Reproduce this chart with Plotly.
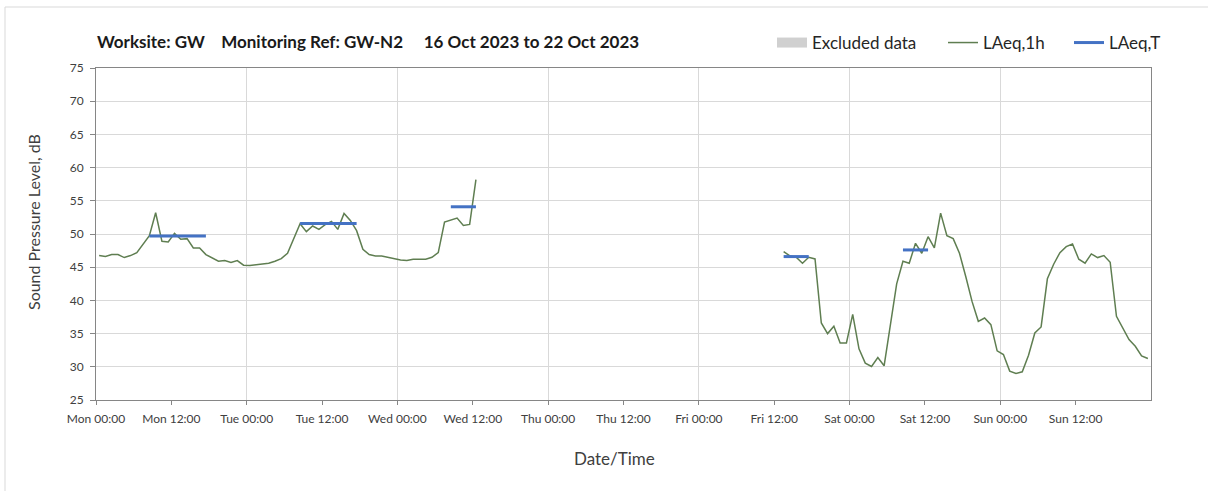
import pandas as pd
import plotly.graph_objects as go

# ---- data -------------------------------------------------------------
# Hourly LAeq,1h values (dB); each value is drawn at the middle of its hour.
seg1_start = "2023-10-16 00:00"      # Mon 00:00 .. Wed 12:00
laeq_1h_seg1 = [
    46.75, 46.6, 46.9, 46.9, 46.45, 46.75, 47.2, 48.5, 49.75, 53.2,
    48.9, 48.8, 50.1, 49.2, 49.3, 47.9, 47.9, 46.9, 46.45, 45.9,
    46.0, 45.7, 46.0, 45.3, 45.25, 45.4, 45.5, 45.6, 45.9, 46.3,
    47.1, 49.3, 51.55, 50.35, 51.2, 50.7, 51.4, 51.9, 50.7, 53.1,
    52.05, 50.5, 47.7, 46.9, 46.7, 46.7, 46.5, 46.2, 46.1, 46.0,
    46.2, 46.2, 46.2, 46.5, 47.2, 51.8, 52.05, 52.4, 51.3, 51.45, 58.2,
]
seg2_start = "2023-10-20 13:00"      # Fri 13:00 .. Sun 23:00
laeq_1h_seg2 = [
    47.33, 46.7, 46.5, 45.6, 46.5, 46.25, 36.6, 35.0, 36.1, 33.6,
    33.6, 37.9, 32.7, 30.55, 30.05, 31.4, 30.15, 36.0, 42.5, 45.9,
    45.6, 48.6, 47.1, 49.6, 47.9, 53.15, 49.75, 49.3, 47.1, 43.6,
    39.85, 36.85, 37.35, 36.35, 32.4, 31.85, 29.35, 29.0, 29.25, 31.75,
    35.1, 36.0, 43.25, 45.45, 47.2, 48.1, 48.5, 46.2, 45.6, 47.0,
    46.45, 46.75, 45.75, 37.6, 35.85, 34.1, 33.1, 31.65, 31.25,
]

# LAeq,T over each assessment period (first and last hour of the period)
period_first_hour = ["2023-10-16 08:00", "2023-10-17 08:00", "2023-10-18 08:00",
                     "2023-10-20 13:00", "2023-10-21 08:00"]
period_last_hour = ["2023-10-16 17:00", "2023-10-17 17:00", "2023-10-18 12:00",
                    "2023-10-20 17:00", "2023-10-21 12:00"]
laeq_t = [49.7, 51.6, 54.1, 46.6, 47.6]

week_start = "2023-10-16 00:00"
week_end = "2023-10-23 00:00"
tick_labels = [
    "Mon 00:00", "Mon 12:00", "Tue 00:00", "Tue 12:00", "Wed 00:00", "Wed 12:00",
    "Thu 00:00", "Thu 12:00", "Fri 00:00", "Fri 12:00", "Sat 00:00", "Sat 12:00",
    "Sun 00:00", "Sun 12:00",
]

# ---- build traces -------------------------------------------------------
half_hour = pd.Timedelta(minutes=30)


def hourly_times(start, n):
    return list(pd.date_range(start, periods=n, freq="h") + half_hour)


x_1h = hourly_times(seg1_start, len(laeq_1h_seg1)) + [None] + \
    hourly_times(seg2_start, len(laeq_1h_seg2))
y_1h = laeq_1h_seg1 + [None] + laeq_1h_seg2

x_t, y_t = [], []
for a, b, v in zip(period_first_hour, period_last_hour, laeq_t):
    x_t += [pd.Timestamp(a) + half_hour, pd.Timestamp(b) + half_hour, None]
    y_t += [v, v, None]

tick_vals = list(pd.date_range(week_start, periods=len(tick_labels), freq="12h"))
day_vals = list(pd.date_range(week_start, week_end, freq="D"))

# ---- layout geometry (pixels) --------------------------------------------
W, H = 1208, 491
L, R, T, B = 96, 1151, 68, 400


def px_x(px):
    return (px - L) / (R - L)


def px_y(py):
    return (B - py) / (B - T)


FONT = "Lato"
TICK_COLOR = "#404040"
AXIS_COLOR = "#868686"
GRID_COLOR = "#d9d9d9"
LEGEND_FONT = dict(family=FONT, size=17, color="#262626")


def legend_at(px_left):
    return dict(
        orientation="h", x=px_x(px_left), xanchor="left", y=px_y(43), yanchor="middle",
        font=LEGEND_FONT, itemwidth=30, bgcolor="rgba(0,0,0,0)",
    )


fig = go.Figure()

fig.add_trace(go.Scatter(
    x=[None], y=[None], mode="lines", name="Excluded data",
    line=dict(color="#d0d0d0", width=11), xaxis="x2", legend="legend",
))
fig.add_trace(go.Scatter(
    x=x_1h, y=y_1h, mode="lines", name="LAeq,1h",
    line=dict(color="#5f7e51", width=1.5), connectgaps=False, legend="legend2",
))
fig.add_trace(go.Scatter(
    x=x_t, y=y_t, mode="lines", name="LAeq,T",
    line=dict(color="#4472c4", width=3), legend="legend3",
))

fig.update_layout(
    width=W, height=H,
    margin=dict(l=L, r=W - R, t=T, b=H - B, pad=0),
    paper_bgcolor="white", plot_bgcolor="white",
    font=dict(family=FONT, color=TICK_COLOR, size=12),
    showlegend=True,
    legend=legend_at(772),
    legend2=legend_at(943),
    legend3=legend_at(1069),
    xaxis=dict(
        type="date", range=[week_start, week_end],
        tickmode="array", tickvals=tick_vals, ticktext=tick_labels,
        showgrid=False, showline=True, linecolor=AXIS_COLOR, linewidth=1,
        mirror=True, ticks="outside", ticklen=4, tickcolor=AXIS_COLOR,
        tickfont=dict(size=12, color=TICK_COLOR), zeroline=False,
        ticklabelstandoff=4,
    ),
    xaxis2=dict(
        type="date", overlaying="x", matches="x", range=[week_start, week_end],
        tickmode="array", tickvals=day_vals, showticklabels=False, ticks="",
        showgrid=True, gridcolor=GRID_COLOR, gridwidth=1, showline=False,
        zeroline=False,
    ),
    yaxis=dict(
        range=[25, 75], dtick=5, tick0=25,
        showgrid=True, gridcolor=GRID_COLOR, gridwidth=1,
        showline=True, linecolor=AXIS_COLOR, linewidth=1, mirror=True,
        ticks="outside", ticklen=5, tickcolor=AXIS_COLOR,
        tickfont=dict(size=12, color=TICK_COLOR), zeroline=False,
        ticklabelstandoff=4,
    ),
)

nb = "\u00a0"
title_text = f"<b>Worksite: GW{nb*4}Monitoring Ref: GW-N2{nb*5}16 Oct 2023 to 22 Oct 2023</b>"
fig.add_annotation(
    text=title_text, xref="paper", yref="paper", x=px_x(95), y=px_y(42),
    xanchor="left", yanchor="middle", showarrow=False,
    font=dict(family=FONT, size=17, color="#1a1a1a"),
)
fig.add_annotation(
    text="Sound Pressure Level, dB", xref="paper", yref="paper",
    x=px_x(33), y=px_y(222), textangle=-90, xanchor="center", yanchor="middle",
    showarrow=False, font=dict(family=FONT, size=16, color="#404040"),
)
fig.add_annotation(
    text="Date/Time", xref="paper", yref="paper", x=px_x(614), y=px_y(458),
    xanchor="center", yanchor="middle", showarrow=False,
    font=dict(family=FONT, size=17, color="#404040"),
)

# thin frame around the chart area
fig.add_shape(
    type="rect", xref="paper", yref="paper",
    x0=px_x(5), x1=px_x(1220), y0=px_y(500), y1=px_y(7),
    line=dict(color=GRID_COLOR, width=1), layer="below",
)

fig.write_html("out.html")
